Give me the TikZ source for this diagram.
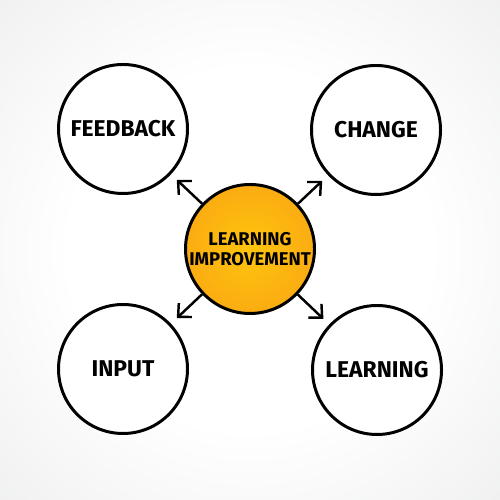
\documentclass[tikz,border=0pt]{standalone}
\usepackage{fontspec}
\setmainfont{Fira Sans}
\usetikzlibrary{arrows.meta}
\definecolor{bggray}{RGB}{228,229,229}
\definecolor{orangeout}{RGB}{247,154,20}
\definecolor{orangein}{RGB}{255,196,14}
\pgfdeclareradialshading{backdrop}{\pgfpoint{0bp}{0bp}}{color(0bp)=(white); color(18bp)=(white); color(50bp)=(bggray); color(100bp)=(bggray)}
\pgfdeclareradialshading{hubfill}{\pgfpoint{0bp}{0bp}}{color(0bp)=(orangein); color(44bp)=(orangeout); color(100bp)=(orangeout)}
\tikzset{
  bubble/.style={circle, draw=black, line width=1.7pt, fill=white,
    minimum size=2.58cm, inner sep=0pt,
    font=\fontsize{13}{14}\selectfont\bfseries},
  hub/.style={bubble, shading=hubfill,
    font=\fontsize{10.5}{11.5}\selectfont\bfseries, align=center},
  link/.style={line width=1.4pt, -{Straight Barb[length=2mm,width=3.8mm,line width=1.4pt]},
    shorten >=1.6mm}
}
\begin{document}
\begin{tikzpicture}
            % background
            \shade[shading=backdrop] (0,0) rectangle (10,10);
            \useasboundingbox (0,0) rectangle (10,10);
%
            % circles
            \node[hub] (learnimp) at (5,5.02) {LEARNING\\[0pt]IMPROVEMENT};
            \node[bubble] (feedback) at (2.46,7.42) {FEEDBACK};
            \node[bubble] (change) at (7.52,7.40) {CHANGE};
            \node[bubble] (input) at (2.46,2.62) {INPUT};
            \node[bubble] (learning) at (7.54,2.60) {LEARNING};
%
            % arrows
            \draw[link] (learnimp) -- (feedback);
            \draw[link] (learnimp) -- (change);
            \draw[link] (learnimp) -- (input);
            \draw[link] (learnimp) -- (learning);
        \end{tikzpicture}
\end{document}
